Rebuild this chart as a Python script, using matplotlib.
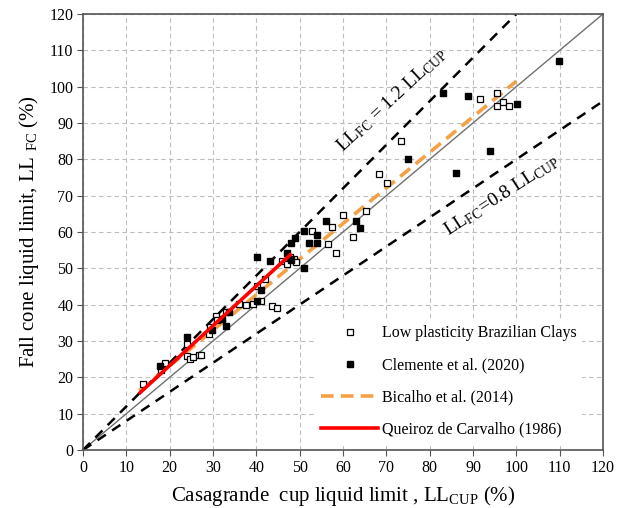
import numpy as np
import matplotlib
matplotlib.use("Agg")
import matplotlib.pyplot as plt

plt.rcParams['font.family'] = ['Liberation Serif', 'DejaVu Serif']
plt.rcParams['mathtext.fontset'] = 'custom'
plt.rcParams['mathtext.rm'] = 'Liberation Serif'
plt.rcParams['mathtext.it'] = 'Liberation Serif:italic'

# Low plasticity Brazilian clays (open squares)
open_x = [13.9, 17.9, 18.9, 24.1, 24.1, 24.8, 25.3, 26.8, 27.2, 29.0, 29.2, 30.8,
          31.0, 32.9, 36.1, 37.7, 39.3, 41.0, 43.5, 44.8, 40.1, 42.0, 45.9, 47.0,
          47.8, 48.7, 49.2, 52.8, 56.5, 57.4, 58.4, 59.9, 62.4, 65.3, 68.2, 70.1,
          73.3, 91.5, 95.5, 95.5, 97.0, 98.2]
open_y = [18.1, 22.0, 24.0, 29.2, 25.9, 25.0, 25.6, 26.1, 26.2, 31.9, 33.9, 36.9,
          35.8, 38.1, 40.2, 39.9, 40.2, 41.1, 39.6, 39.2, 45.1, 47.2, 52.1, 51.2,
          53.0, 52.5, 51.8, 60.4, 56.8, 61.3, 54.2, 64.7, 58.5, 65.7, 76.0, 73.6,
          85.1, 96.5, 98.2, 94.7, 95.8, 94.7]

# Clemente et al. (2020) (filled squares)
fill_x = [17.8, 24.1, 29.8, 32.0, 33.0, 33.8, 40.1, 40.1, 41.0, 43.2, 47.0, 47.9,
          47.9, 48.9, 51.0, 51.0, 52.1, 54.1, 54.1, 56.0, 63.0, 63.9, 75.1, 83.0,
          86.1, 88.9, 93.9, 100.1, 109.9]
fill_y = [23.2, 31.2, 33.0, 36.1, 34.1, 38.1, 41.1, 53.2, 44.0, 52.1, 54.1, 52.3,
          57.1, 58.3, 60.2, 50.1, 57.1, 59.2, 57.1, 62.9, 63.1, 61.1, 80.1, 98.2,
          76.2, 97.3, 82.2, 95.2, 107.2]

# reference lines
bicalho_x = [13.0, 100.0]
bicalho_y = [16.3, 101.5]
queiroz_x = [13.2, 47.8]
queiroz_y = [15.8, 53.7]


def main():
    fig = plt.figure(figsize=(6.18, 5.08), dpi=100)
    ax = fig.add_axes([83 / 618, 58 / 508, 520 / 618, 436 / 508])

    ax.set_xlim(0, 120)
    ax.set_ylim(0, 120)
    ax.set_xticks(np.arange(0, 121, 10))
    ax.set_yticks(np.arange(0, 121, 10))
    ax.grid(True, color='#bdbdbd', linestyle=(0, (4, 3)), linewidth=0.8)
    ax.set_axisbelow(True)

    for s in ax.spines.values():
        s.set_color('#555555')
        s.set_linewidth(1.2)
    ax.tick_params(direction='out', length=4, color='#555555',
                   labelsize=11.5, pad=3)

    xx = np.array([0, 120])
    ax.plot(xx, xx, color='#707070', lw=1.0, zorder=2)
    ax.plot([0, 100], [0, 120], color='black', lw=1.8, ls=(0, (4, 3)), zorder=2)
    ax.plot(xx, 0.8 * xx, color='black', lw=1.8, ls=(0, (4, 3)), zorder=2)

    h1, = ax.plot(open_x, open_y, 's', ms=5, mfc='white', mec='black', mew=0.9,
                  ls='none', zorder=4, label='Low plasticity Brazilian Clays')
    h2, = ax.plot(fill_x, fill_y, 's', ms=5, mfc='black', mec='black', ls='none',
                  zorder=4, label='Clemente et al. (2020)')
    h3, = ax.plot(bicalho_x, bicalho_y, color='#f4a045', lw=2.6, ls=(0, (3.5, 2)),
                  zorder=3, label='Bicalho et al. (2014)')
    h4, = ax.plot(queiroz_x, queiroz_y, color='#ff0000', lw=2.6, zorder=5,
                  label='Queiroz de Carvalho (1986)')

    ax.text(71.3, 96.3, r'LL$_{\mathrm{FC}}$ = 1.2 LL$_{\mathrm{CUP}}$', fontsize=14,
            rotation=43, ha='center', va='center')
    ax.text(96.7, 70.2, r'LL$_{\mathrm{FC}}$=0.8 LL$_{\mathrm{CUP}}$', fontsize=14,
            rotation=33, ha='center', va='center')

    leg = ax.legend(handles=[h1, h2, h3, h4], loc='upper left',
                    bbox_to_anchor=(0.433, 0.315), frameon=True, fancybox=False,
                    edgecolor='white', framealpha=1, fontsize=11.5,
                    handlelength=3.6, handletextpad=0.2, labelspacing=1.0,
                    borderpad=0.3)
    leg.set_zorder(6)

    ax.set_xlabel(r'Casagrande  cup liquid limit , LL$_{\mathrm{CUP}}$ (%)',
                  fontsize=15, labelpad=6)
    ax.set_ylabel(r'Fall cone liquid limit, LL $_{\mathrm{FC}}$ (%)',
                  fontsize=15, labelpad=6)

    fig.savefig('out.png', dpi=100)


if __name__ == "__main__":
    main()
